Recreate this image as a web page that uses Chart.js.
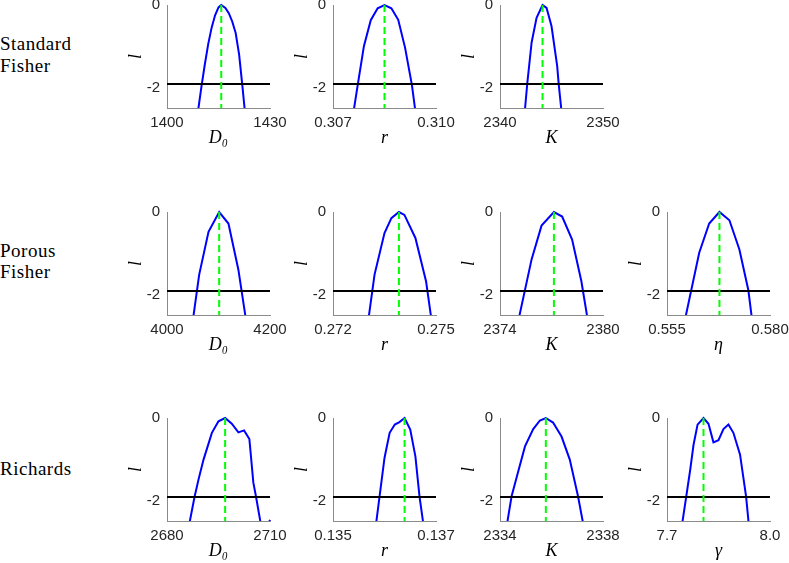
<!DOCTYPE html>
<html><head><meta charset="utf-8">
<script src="https://cdn.jsdelivr.net/npm/chart.js@4/dist/chart.umd.min.js"></script>
<style>
html,body{margin:0;padding:0;background:#fff;width:789px;height:563px;overflow:hidden;position:relative}
canvas{position:absolute}
.rowlab{position:absolute;left:0;font-family:'Liberation Serif',serif;font-size:19px;line-height:19px;color:#000;white-space:nowrap;letter-spacing:0.5px}
</style></head><body>
<script>
// ---------- data ----------
const rowNames = [['Standard', 'Fisher'], ['Porous', 'Fisher'], ['Richards']];
const yTickValues = [-2, 0];
const yTickLabels = ['-2', '0'];
const yMin = -2.5, yMax = 0;
const threshold = -1.92;
const yTitle = 'l';

// Standard Fisher
const sfD0X = [1409, 1410, 1411, 1412, 1413, 1414, 1415, 1415.8, 1417, 1418, 1419, 1420, 1421, 1422, 1423];
const sfD0L = [-2.6, -2.0, -1.45, -0.95, -0.55, -0.25, -0.06, 0, -0.07, -0.2, -0.4, -0.68, -1.2, -2.0, -2.85];
const sfD0Mle = 1415.8;
const sfD0Ticks = ['1400', '1430'];

const sfRX = [0.30755, 0.30770, 0.30790, 0.30810, 0.30830, 0.30850, 0.30870, 0.30890, 0.30910, 0.30930, 0.30945];
const sfRL = [-2.85, -2.05, -1.0, -0.37, -0.08, 0, -0.08, -0.36, -1.04, -1.95, -2.9];
const sfRMle = 0.3085;
const sfRTicks = ['0.307', '0.310'];

const sfKX = [2342.4, 2342.65, 2343.07, 2343.55, 2344.13, 2344.52, 2345.0, 2345.55, 2345.7, 2346.0];
const sfKL = [-2.6, -1.9, -0.91, -0.31, 0, -0.07, -0.51, -1.48, -1.92, -2.65];
const sfKMle = 2344.13;
const sfKTicks = ['2340', '2350'];

// Porous Fisher
const pfD0X = [4045, 4062.5, 4080.6, 4101.3, 4119.3, 4138.6, 4158];
const pfD0L = [-3.1, -1.52, -0.48, 0, -0.28, -1.40, -3.0];
const pfD0Mle = 4101.3;
const pfD0Ticks = ['4000', '4200'];

const pfRX = [0.27295, 0.27321, 0.27350, 0.27370, 0.27392, 0.27408, 0.27440, 0.27471, 0.27495];
const pfRL = [-3.1, -1.52, -0.51, -0.15, 0, -0.07, -0.63, -1.68, -3.1];
const pfRMle = 0.27392;
const pfRTicks = ['0.272', '0.275'];

const pfKX = [2375.0, 2375.84, 2376.42, 2377.14, 2377.62, 2378.20, 2378.74, 2379.3];
const pfKL = [-2.77, -1.15, -0.33, 0, -0.11, -0.67, -1.68, -3.1];
const pfKMle = 2377.14;
const pfKTicks = ['2374', '2380'];

const pfEtaX = [0.5595, 0.56282, 0.56524, 0.56773, 0.57015, 0.57257, 0.57475, 0.5765];
const pfEtaL = [-2.55, -0.99, -0.28, 0, -0.2, -0.91, -1.9, -3.3];
const pfEtaMle = 0.56773;
const pfEtaTicks = ['0.555', '0.580'];

// Richards
const rD0X = [2685.5, 2688.03, 2689.19, 2690.64, 2693.07, 2694.99, 2696.93, 2698.87, 2700.79, 2702.45, 2703.99, 2705.15, 2705.93, 2708.0, 2710];
const rD0L = [-3.0, -1.91, -1.49, -1.01, -0.36, -0.08, 0, -0.14, -0.35, -0.30, -0.51, -1.57, -1.91, -2.9, -2.47];
const rD0Mle = 2696.93;
const rD0Ticks = ['2680', '2710'];

const rRX = [0.13580, 0.13600, 0.13610, 0.13620, 0.13629, 0.13639, 0.13650, 0.13660, 0.13668, 0.13678];
const rRL = [-2.92, -0.97, -0.36, -0.16, -0.10, 0, -0.28, -0.93, -1.91, -2.8];
const rRMle = 0.13639;
const rRTicks = ['0.135', '0.137'];

const rKX = [2334.2, 2334.45, 2334.71, 2334.97, 2335.29, 2335.55, 2335.78, 2336.06, 2336.39, 2336.71, 2337.03, 2337.3];
const rKL = [-2.85, -1.9, -1.29, -0.69, -0.27, -0.06, 0, -0.11, -0.45, -1.01, -1.9, -2.8];
const rKMle = 2335.78;
const rKTicks = ['2334', '2338'];

const rGammaX = [7.742, 7.7561, 7.7677, 7.7773, 7.789, 7.8063, 7.8208, 7.8353, 7.8499, 7.8644, 7.8789, 7.8934, 7.9128, 7.9303, 7.942];
const rGammaL = [-2.69, -1.9, -1.25, -0.65, -0.16, 0, -0.14, -0.59, -0.54, -0.27, -0.16, -0.36, -0.89, -1.9, -2.91];
const rGammaMle = 7.8063;
const rGammaTicks = ['7.7', '8.0'];

const panels = [
  {row: 0, col: 0, x: sfD0X, l: sfD0L, mle: sfD0Mle, ticks: sfD0Ticks, name: 'D\u2080'},
  {row: 0, col: 1, x: sfRX, l: sfRL, mle: sfRMle, ticks: sfRTicks, name: 'r'},
  {row: 0, col: 2, x: sfKX, l: sfKL, mle: sfKMle, ticks: sfKTicks, name: 'K'},
  {row: 1, col: 0, x: pfD0X, l: pfD0L, mle: pfD0Mle, ticks: pfD0Ticks, name: 'D\u2080'},
  {row: 1, col: 1, x: pfRX, l: pfRL, mle: pfRMle, ticks: pfRTicks, name: 'r'},
  {row: 1, col: 2, x: pfKX, l: pfKL, mle: pfKMle, ticks: pfKTicks, name: 'K'},
  {row: 1, col: 3, x: pfEtaX, l: pfEtaL, mle: pfEtaMle, ticks: pfEtaTicks, name: '\u03b7'},
  {row: 2, col: 0, x: rD0X, l: rD0L, mle: rD0Mle, ticks: rD0Ticks, name: 'D\u2080'},
  {row: 2, col: 1, x: rRX, l: rRL, mle: rRMle, ticks: rRTicks, name: 'r'},
  {row: 2, col: 2, x: rKX, l: rKL, mle: rKMle, ticks: rKTicks, name: 'K'},
  {row: 2, col: 3, x: rGammaX, l: rGammaL, mle: rGammaMle, ticks: rGammaTicks, name: '\u03b3'}
];

// ---------- layout ----------
const colLeft = [167, 333, 500, 667];
const rowTop = [5, 212, 418];
const PW = 103, PH = 103;
const YW = 75, PR = 25, PT = 12, XH = 50;
const tickFont = {family: "'Liberation Sans', Arial, sans-serif", size: 15};
const mathFont = {family: "'Liberation Serif', serif", size: 18, style: 'italic'};
const tickColor = '#262626';
const axisColor = '#8a8a8a';

const rowLabelTops = [[34, 56], [241, 262], [459]];
rowNames.forEach((lines, r) => {
  lines.forEach((t, i) => {
    const d = document.createElement('div');
    d.className = 'rowlab';
    d.style.top = rowLabelTops[r][i] + 'px';
    d.textContent = t;
    document.body.appendChild(d);
  });
});

function makePanel(p) {
  const L = colLeft[p.col], T = rowTop[p.row];
  const W = YW + PW + PR, H = PT + PH + XH;
  const cv = document.createElement('canvas');
  cv.width = W; cv.height = H;
  cv.style.left = (L - YW) + 'px';
  cv.style.top = (T - PT) + 'px';
  cv.style.width = W + 'px';
  cv.style.height = H + 'px';
  document.body.appendChild(cv);
  const xmin = parseFloat(p.ticks[0]), xmax = parseFloat(p.ticks[1]);
  new Chart(cv, {
    type: 'line',
    data: {
      datasets: [
        {data: [{x: p.mle, y: yMax}, {x: p.mle, y: yMin}], borderColor: '#00ff00', borderWidth: 2, borderDash: [7, 4], pointRadius: 0, clip: {left: 2, right: 2, top: 3, bottom: 0}},
        {data: [{x: xmin, y: threshold}, {x: xmax, y: threshold}], borderColor: '#000000', borderWidth: 2, pointRadius: 0, clip: {left: 0, right: 1, top: 3, bottom: 0}},
        {data: p.x.map((v, i) => ({x: v, y: p.l[i]})), borderColor: '#0000ff', borderWidth: 2, pointRadius: 0, tension: 0, clip: {left: 2, right: 2, top: 3, bottom: 0}}
      ]
    },
    options: {
      responsive: false, animation: false, events: [], devicePixelRatio: 1,
      layout: {padding: {left: 0, top: PT, right: PR, bottom: 0}},
      plugins: {legend: {display: false}, tooltip: {enabled: false}},
      scales: {
        x: {
          type: 'linear', position: 'bottom', min: xmin, max: xmax,
          grid: {display: false, drawTicks: false},
          border: {display: true, color: axisColor, width: 1},
          ticks: {font: tickFont, color: tickColor, padding: 6, maxRotation: 0, autoSkip: false,
                  callback: (v, i) => p.ticks[i]},
          afterBuildTicks: s => { s.ticks = [{value: xmin}, {value: xmax}]; },
          afterFit: s => { s.height = XH; s.paddingLeft = 0; s.paddingRight = 0; },
          title: {display: true, text: p.name, font: mathFont, color: '#000', padding: {top: 0, bottom: 9}}
        },
        y: {
          type: 'linear', position: 'left', min: yMin, max: yMax,
          grid: {display: false, drawTicks: false},
          border: {display: true, color: axisColor, width: 1},
          ticks: {font: tickFont, color: tickColor, padding: 7,
                  callback: (v, i) => yTickLabels[i]},
          afterBuildTicks: s => { s.ticks = yTickValues.map(v => ({value: v})); },
          afterFit: s => { s.width = YW; s.paddingTop = 0; s.paddingBottom = 0; },
          title: {display: true, text: yTitle, font: mathFont, color: '#000', padding: {top: 33, bottom: 0}}
        }
      }
    }
  });
}
panels.forEach(makePanel);
</script>
</body></html>
